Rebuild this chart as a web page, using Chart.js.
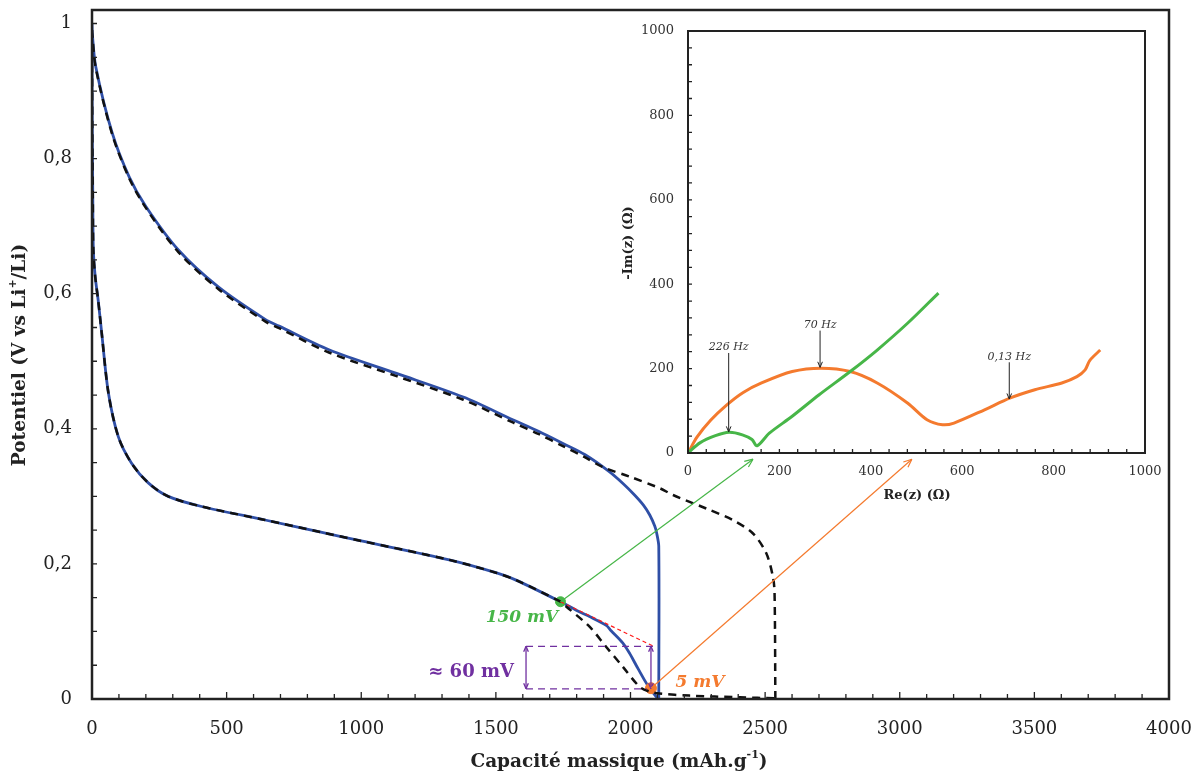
<!DOCTYPE html>
<html lang="fr">
<head>
<meta charset="utf-8">
<title>Potentiel vs capacité massique</title>
<script src="https://cdn.jsdelivr.net/npm/chart.js@4.4.1/dist/chart.umd.min.js"></script>
<style>
  body { margin: 0; background: #fff; }
  #wrap { position: relative; width: 1202px; height: 778px; }
  #main { position: absolute; left: 0; top: 0; }
  #inset { position: absolute; left: 600px; top: 15px; }
</style>
</head>
<body>
<div id="wrap">
  <canvas id="main" width="1202" height="778"></canvas>
  <canvas id="inset" width="570" height="500"></canvas>
</div>
<script>
// courbe principale : capacité (mAh/g) et potentiel (V)
const decharge1X = [0, 1, 3, 5, 12, 23, 36, 61, 98, 147, 209, 283, 407, 643, 850, 1000, 1327, 1500, 1575, 1740, 1810, 1848, 1910, 1928, 1971, 1996, 2021, 2052, 2071, 2100];
const decharge1Y = [0.96, 0.85, 0.74, 0.665, 0.625, 0.59, 0.542, 0.453, 0.388, 0.349, 0.32, 0.3, 0.285, 0.265, 0.247, 0.234, 0.206, 0.187, 0.176, 0.144, 0.129, 0.122, 0.109, 0.101, 0.083, 0.068, 0.05, 0.028, 0.016, 0.001];
const charge1X = [2105, 2105, 2097, 2090, 2072, 2048, 2015, 1975, 1920, 1830, 1751, 1660, 1565, 1379, 1131, 880, 695, 643, 469, 320, 200, 138, 75, 14, 1, 0];
const charge1Y = [0.0, 0.226, 0.246, 0.256, 0.272, 0.287, 0.302, 0.318, 0.337, 0.362, 0.378, 0.396, 0.413, 0.447, 0.482, 0.517, 0.552, 0.562, 0.61, 0.665, 0.729, 0.773, 0.838, 0.936, 0.986, 1.0];

const decharge2X = [0, 1, 3, 5, 12, 23, 36, 61, 98, 147, 209, 283, 407, 643, 850, 1000, 1327, 1500, 1575, 1740, 1761, 1848, 1910, 1971, 2034, 2071, 2108, 2219, 2405, 2538];
const decharge2Y = [0.96, 0.85, 0.74, 0.665, 0.625, 0.59, 0.542, 0.453, 0.388, 0.349, 0.32, 0.3, 0.285, 0.265, 0.247, 0.234, 0.206, 0.187, 0.176, 0.144, 0.137, 0.107, 0.077, 0.048, 0.018, 0.011, 0.008, 0.005, 0.0025, 0.001];
const charge2X = [2538, 2535, 2529, 2504, 2455, 2380, 2281, 2158, 2109, 1998, 1899, 1830, 1751, 1660, 1565, 1379, 1131, 880, 695, 643, 469, 320, 200, 138, 75, 14, 1, 0];
const charge2Y = [0.0, 0.157, 0.181, 0.216, 0.245, 0.265, 0.282, 0.302, 0.312, 0.329, 0.343, 0.358, 0.374, 0.392, 0.409, 0.443, 0.478, 0.513, 0.549, 0.559, 0.607, 0.662, 0.727, 0.771, 0.836, 0.934, 0.985, 1.0];

// points marqués et annotations (coordonnées en unités des axes)
const point150 = [1740, 0.144];
const point5 = [2076, 0.016];
const fleche150 = [2455, 0.355];
const fleche5 = [3045, 0.355];
const tangenteFin = [2086, 0.078];
const cadre60X = [1612, 2076];
const cadre60Y = [0.015, 0.078];

// encart : impédance (ohm)
const vertX = [0, 26, 60, 90, 119, 140, 151, 178, 228, 287, 355, 414, 481, 548];
const vertY = [0, 24, 41, 49, 43, 32, 17, 47, 87, 138, 193, 244, 308, 379];
const orangeX = [0, 20, 50, 85, 120, 161, 228, 291, 355, 414, 481, 523, 557, 582, 650, 704, 759, 818, 851, 869, 879, 902];
const orangeY = [0, 38, 78, 114, 143, 166, 193, 201, 193, 166, 118, 79, 67, 71, 103, 130, 150, 166, 181, 197, 219, 244];
const freqLabels = ['226 Hz', '70 Hz', '0,13 Hz'];
const freqX = [89, 289, 703];
const freqTexteY = [252, 303, 228];
const freqFlecheY = [[237, 50], [290, 203], [215, 128]];

const BLEU = '#2f4fa6', VERT = '#47b648', ORANGE = '#f47a2e', VIOLET = '#7030a0';
const SERIF = '"DejaVu Serif", serif';

function pts(xs, ys) {
  return xs.map((x, i) => ({ x: x, y: ys[i] }));
}

function drawRuns(ctx, runs, cx, cy, angle) {
  ctx.save();
  ctx.translate(cx, cy);
  ctx.rotate(angle || 0);
  let w = 0;
  runs.forEach(r => { ctx.font = r.font; w += ctx.measureText(r.t).width; });
  let x = -w / 2;
  ctx.textBaseline = 'middle';
  ctx.textAlign = 'left';
  runs.forEach(r => {
    ctx.font = r.font;
    ctx.fillStyle = r.color || '#222';
    ctx.fillText(r.t, x, r.dy || 0);
    x += ctx.measureText(r.t).width;
  });
  ctx.restore();
}

function arrowHead(ctx, x1, y1, x2, y2, size) {
  const a = Math.atan2(y2 - y1, x2 - x1);
  ctx.beginPath();
  ctx.moveTo(x2, y2);
  ctx.lineTo(x2 - size * Math.cos(a - 0.4), y2 - size * Math.sin(a - 0.4));
  ctx.moveTo(x2, y2);
  ctx.lineTo(x2 - size * Math.cos(a + 0.4), y2 - size * Math.sin(a + 0.4));
  ctx.stroke();
}

function arrow(ctx, x1, y1, x2, y2, color, width, size, both) {
  ctx.save();
  ctx.strokeStyle = color;
  ctx.lineWidth = width;
  ctx.setLineDash([]);
  ctx.beginPath();
  ctx.moveTo(x1, y1);
  ctx.lineTo(x2, y2);
  ctx.stroke();
  arrowHead(ctx, x1, y1, x2, y2, size);
  if (both) arrowHead(ctx, x2, y2, x1, y1, size);
  ctx.restore();
}

function inwardTicks(chart, xMajor, minLen, majLen) {
  const ctx = chart.ctx, a = chart.chartArea;
  const sx = chart.scales.x, sy = chart.scales.y;
  ctx.save();
  ctx.strokeStyle = '#222';
  ctx.lineWidth = 1.3;
  ctx.beginPath();
  sx.ticks.forEach(t => {
    const px = sx.getPixelForValue(t.value);
    const len = Math.abs(t.value / xMajor - Math.round(t.value / xMajor)) < 1e-6 ? majLen : minLen;
    ctx.moveTo(px, a.bottom);
    ctx.lineTo(px, a.bottom - len);
  });
  sy.ticks.forEach(t => {
    const py = sy.getPixelForValue(t.value);
    ctx.moveTo(a.left, py);
    ctx.lineTo(a.left + minLen, py);
  });
  ctx.stroke();
  ctx.restore();
}

function ticksEvery(step, max) {
  return function (scale) {
    scale.ticks = [];
    const n = Math.round(max / step);
    for (let i = 0; i <= n; i++) scale.ticks.push({ value: Math.round(i * step * 1000) / 1000 });
  };
}

// pas de marge automatique autour des étiquettes : la zone de tracé est fixée par layout.padding
function fixX(h) {
  return s => { s.height = h; s.paddingLeft = 0; s.paddingRight = 0; };
}
function fixY(w) {
  return s => { s.width = w; s.paddingTop = 0; s.paddingBottom = 0; };
}

// ---------- graphique principal ----------
const mainPlugin = {
  id: 'mainDecor',
  afterDatasetsDraw(chart) {
    const ctx = chart.ctx;
    const sx = chart.scales.x, sy = chart.scales.y;
    const X = v => sx.getPixelForValue(v), Y = v => sy.getPixelForValue(v);

    // tangente rouge
    ctx.save();
    ctx.strokeStyle = '#ff1a1a';
    ctx.lineWidth = 1.2;
    ctx.setLineDash([4, 3]);
    ctx.beginPath();
    ctx.moveTo(X(point150[0]), Y(point150[1]));
    ctx.lineTo(X(tangenteFin[0]), Y(tangenteFin[1]));
    ctx.stroke();

    // cadre violet ≈ 60 mV
    ctx.strokeStyle = VIOLET;
    ctx.lineWidth = 1.3;
    ctx.setLineDash([7, 5]);
    ctx.beginPath();
    ctx.moveTo(X(cadre60X[0]), Y(cadre60Y[1]));
    ctx.lineTo(X(cadre60X[1]) + 2, Y(cadre60Y[1]));
    ctx.moveTo(X(cadre60X[0]), Y(cadre60Y[0]));
    ctx.lineTo(X(cadre60X[1]) - 4, Y(cadre60Y[0]));
    ctx.stroke();
    ctx.restore();
    arrow(ctx, X(cadre60X[0]), Y(cadre60Y[0]), X(cadre60X[0]), Y(cadre60Y[1]), VIOLET, 1.3, 6, true);
    arrow(ctx, X(cadre60X[1]), Y(cadre60Y[0]), X(cadre60X[1]), Y(cadre60Y[1]), VIOLET, 1.3, 6, true);

    // flèches vers l'encart
    arrow(ctx, X(point150[0]), Y(point150[1]), X(fleche150[0]), Y(fleche150[1]), VERT, 1.2, 9, false);
    arrow(ctx, X(point5[0]), Y(point5[1]), X(fleche5[0]), Y(fleche5[1]), ORANGE, 1.2, 9, false);

    // textes
    drawRuns(ctx, [{ t: '150 mV', font: 'italic bold 17px ' + SERIF, color: VERT }], X(1597), Y(0.12));
    drawRuns(ctx, [{ t: '≈ 60 mV', font: 'bold 18px ' + SERIF, color: VIOLET }], X(1408), Y(0.04));
    drawRuns(ctx, [{ t: '5 mV', font: 'italic bold 17px ' + SERIF, color: ORANGE }], X(2258), Y(0.024));
  },
  afterDraw(chart) {
    const ctx = chart.ctx, a = chart.chartArea;
    inwardTicks(chart, 500, 5, 7);
    ctx.save();
    ctx.strokeStyle = '#222';
    ctx.lineWidth = 2.5;
    ctx.strokeRect(a.left, a.top, a.right - a.left, a.bottom - a.top);
    ctx.restore();
    const b = 'bold 18.5px ' + SERIF, s = 'bold 11px ' + SERIF;
    drawRuns(ctx, [{ t: 'Capacité massique (mAh.g', font: b }, { t: '-1', font: s, dy: -7 }, { t: ')', font: b }], 619, 762);
    drawRuns(ctx, [{ t: 'Potentiel (V vs Li', font: b }, { t: '+', font: s, dy: -7 }, { t: '/Li)', font: b }], 20, 355, -Math.PI / 2);
  }
};

new Chart(document.getElementById('main').getContext('2d'), {
  type: 'scatter',
  data: {
    datasets: [
      { data: pts(decharge2X, decharge2Y), showLine: true, borderColor: '#111', borderDash: [8, 6], borderWidth: 2.5, pointRadius: 0, tension: 0.3 },
      { data: pts(charge2X, charge2Y), showLine: true, borderColor: '#111', borderDash: [8, 6], borderWidth: 2.5, pointRadius: 0, tension: 0.3 },
      { data: [{ x: point150[0], y: point150[1] }], pointRadius: 5, backgroundColor: VERT, borderColor: VERT },
      { data: [{ x: point5[0], y: point5[1] }], pointRadius: 5.5, backgroundColor: ORANGE, borderColor: ORANGE },
      { data: pts(decharge1X, decharge1Y), showLine: true, borderColor: BLEU, borderWidth: 2.8, pointRadius: 0, tension: 0.3 },
      { data: pts(charge1X, charge1Y), showLine: true, borderColor: BLEU, borderWidth: 2.8, pointRadius: 0, tension: 0.3 }
    ]
  },
  options: {
    responsive: false,
    animation: false,
    layout: { padding: { top: 10, right: 33, left: 0, bottom: 0 } },
    plugins: { legend: { display: false }, tooltip: { enabled: false } },
    scales: {
      x: {
        type: 'linear', min: 0, max: 4000,
        afterBuildTicks: ticksEvery(100, 4000),
        afterFit: fixX(79),
        grid: { display: false, drawTicks: false },
        border: { display: false },
        ticks: {
          autoSkip: false, maxRotation: 0, padding: 20, color: '#222',
          font: { family: SERIF, size: 18 },
          callback: v => (v % 500 === 0 ? String(v) : '')
        }
      },
      y: {
        type: 'linear', min: 0, max: 1.02,
        afterBuildTicks: ticksEvery(0.05, 1),
        afterFit: fixY(92),
        grid: { display: false, drawTicks: false },
        border: { display: false },
        ticks: {
          autoSkip: false, padding: 20, color: '#222',
          font: { family: SERIF, size: 18 },
          callback: v => {
            const k = Math.round(v * 100);
            return k % 20 === 0 ? String(k / 100).replace('.', ',') : '';
          }
        }
      }
    }
  },
  plugins: [mainPlugin]
});

// ---------- encart ----------
const insetPlugin = {
  id: 'insetDecor',
  afterDraw(chart) {
    const ctx = chart.ctx, a = chart.chartArea;
    const sx = chart.scales.x, sy = chart.scales.y;
    inwardTicks(chart, 200, 4, 4);
    ctx.save();
    ctx.strokeStyle = '#222';
    ctx.lineWidth = 2;
    ctx.strokeRect(a.left, a.top, a.right - a.left, a.bottom - a.top);
    ctx.restore();

    freqLabels.forEach((lab, i) => {
      const px = sx.getPixelForValue(freqX[i]);
      drawRuns(ctx, [{ t: lab, font: 'italic 11px ' + SERIF, color: '#333' }], px, sy.getPixelForValue(freqTexteY[i]));
      arrow(ctx, px, sy.getPixelForValue(freqFlecheY[i][0]), px, sy.getPixelForValue(freqFlecheY[i][1]), '#222', 1, 6, false);
    });

    const b = 'bold 13px ' + SERIF;
    drawRuns(ctx, [{ t: 'Re(z) (Ω)', font: b }], 317, 481);
    drawRuns(ctx, [{ t: '-Im(z) (Ω)', font: b }], 29, 228, -Math.PI / 2);
  }
};

new Chart(document.getElementById('inset').getContext('2d'), {
  type: 'scatter',
  data: {
    datasets: [
      { data: pts(vertX, vertY), showLine: true, borderColor: VERT, borderWidth: 3, pointRadius: 0, tension: 0.3 },
      { data: pts(orangeX, orangeY), showLine: true, borderColor: ORANGE, borderWidth: 3, pointRadius: 0, tension: 0.3 }
    ]
  },
  options: {
    responsive: false,
    animation: false,
    layout: { padding: { top: 16, right: 25, left: 0, bottom: 0 } },
    plugins: { legend: { display: false }, tooltip: { enabled: false } },
    scales: {
      x: {
        type: 'linear', min: 0, max: 1000,
        afterBuildTicks: ticksEvery(40, 1000),
        afterFit: fixX(62),
        grid: { display: false, drawTicks: false },
        border: { display: false },
        ticks: {
          autoSkip: false, maxRotation: 0, padding: 11, color: '#333',
          font: { family: SERIF, size: 13 },
          callback: v => (v % 200 === 0 ? String(v) : '')
        }
      },
      y: {
        type: 'linear', min: 0, max: 1000,
        afterBuildTicks: ticksEvery(40, 1000),
        afterFit: fixY(88),
        grid: { display: false, drawTicks: false },
        border: { display: false },
        ticks: {
          autoSkip: false, padding: 14, color: '#333',
          font: { family: SERIF, size: 13 },
          callback: v => (v % 200 === 0 ? String(v) : '')
        }
      }
    }
  },
  plugins: [insetPlugin]
});
</script>
</body>
</html>
